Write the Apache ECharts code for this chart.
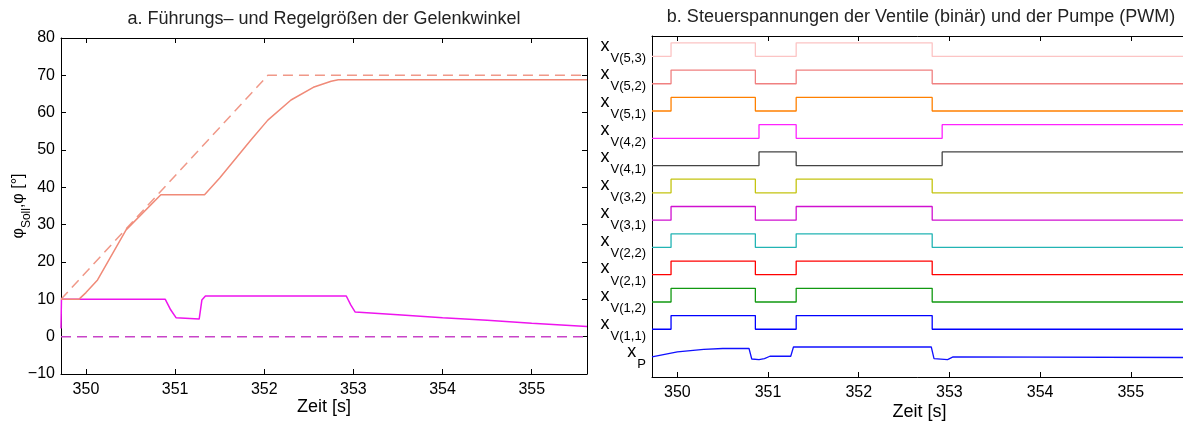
<!DOCTYPE html>
<html>
<head>
<meta charset="utf-8">
<script src="https://cdn.jsdelivr.net/npm/echarts@6/dist/echarts.min.js"></script>
<style>
  html, body { margin: 0; padding: 0; background: #ffffff; }
  #chart { width: 1183px; height: 421px; }
</style>
</head>
<body>
<div id="chart"></div>
<script>
// Time window [s]
const timeMin = 349.72;
const timeMax = 355.62;
const timeTicks = [350, 351, 352, 353, 354, 355];

// Joint angles [deg]: set points (dashed) and measured values (solid)
const angleSoll1 = [[349.72, 10], [352.04, 70], [355.62, 70]];
const angleIst1 = [[349.72, 10], [349.92, 10], [350.0, 11.8], [350.13, 15.2], [350.45, 28.6],
  [350.84, 38.0], [351.33, 38.0], [351.5, 42.5], [351.85, 52.7], [352.04, 58.0], [352.3, 63.4],
  [352.55, 66.8], [352.75, 68.4], [352.83, 68.8], [355.62, 68.8]];
const angleSoll2 = [[349.72, 0], [355.62, 0]];
const angleIst2 = [[349.72, 2.2], [349.725, 10], [350.89, 10], [350.95, 7.2], [351.01, 5.1],
  [351.27, 4.7], [351.3, 9.8], [351.34, 10.9], [352.92, 10.9], [352.97, 8.5], [353.02, 6.6],
  [353.5, 5.9], [354.0, 5.1], [354.5, 4.4], [355.0, 3.6], [355.62, 2.7]];

// Valve switching states (0 = closed, 1 = open)
const switchA = [[349.72, 0], [349.93, 1], [350.86, 0], [351.31, 1], [352.81, 0], [355.62, 0]];
const switchB = [[349.72, 0], [350.90, 1], [351.31, 0], [352.92, 1], [355.62, 1]];
const valveNames = ['V(1,1)', 'V(1,2)', 'V(2,1)', 'V(2,2)', 'V(3,1)', 'V(3,2)',
  'V(4,1)', 'V(4,2)', 'V(5,1)', 'V(5,2)', 'V(5,3)'];
const valvePattern = ['A', 'A', 'A', 'A', 'A', 'A', 'B', 'B', 'A', 'A', 'A'];
const valveColors = ['#0000ff', '#119911', '#ff0000', '#22b4b4', '#d010d0', '#c4c410',
  '#444444', '#ff22ff', '#ff8000', '#f08080', '#fcc4c4'];

// Pump PWM voltage (relative)
const pumpPWM = [[349.72, -0.03], [350.0, 0.34], [350.29, 0.53], [350.5, 0.59], [350.79, 0.59],
  [350.82, -0.18], [350.9, -0.22], [350.96, -0.15], [351.02, 0.02], [351.25, 0.02], [351.28, 0.7],
  [352.8, 0.7], [352.83, -0.15], [352.98, -0.22], [353.04, -0.03], [355.62, -0.07]];

const FONT = "'Liberation Sans', Arial, Helvetica, sans-serif";
const TRACE_GAP = 2;       // vertical distance between traces
const TRACE_BASE = 1.5;    // position of the pump trace
const LABEL_GAP = 2.037;   // tick label spacing on the trace axis
const LABEL_BASE = 1.33;

const traceOffset = i => TRACE_BASE + TRACE_GAP * i;
const labelOffset = i => LABEL_BASE + LABEL_GAP * i;
const shift = (pts, off) => pts.map(p => [p[0], p[1] + off]);
const traceNames = ['P'].concat(valveNames);
const minusSign = v => String(v).replace('-', '\u2212');

const chart = echarts.init(document.getElementById('chart'), null, { renderer: 'canvas' });

const axisLine = { show: true, onZero: false, lineStyle: { color: '#000', width: 1 } };
const tickIn = { show: true, inside: true, length: 5, lineStyle: { color: '#000', width: 1 } };

function timeAxis(grid, position, withLabels, nameGap) {
  return {
    type: 'value', gridIndex: grid, position: position, min: timeMin, max: timeMax,
    axisLine: axisLine,
    axisTick: Object.assign({ customValues: timeTicks }, tickIn),
    axisLabel: withLabels ? { customValues: timeTicks, color: '#000', fontSize: 16, fontFamily: FONT, margin: 8 } : { show: false },
    splitLine: { show: false },
    name: withLabels ? 'Zeit [s]' : '',
    nameLocation: 'middle', nameGap: nameGap || 25, nameMoveOverlap: false,
    nameTextStyle: { color: '#000', fontSize: 18, fontFamily: FONT }
  };
}

// Trace labels "x" with subscript; even and odd traces go on two
// overlaid axes so neighbouring labels never compete for space.
function traceLabelAxis(parity) {
  const idx = traceNames.map((n, i) => i).filter(i => i % 2 === parity);
  return {
    type: 'value', gridIndex: 1, position: 'left', offset: 0, min: 0, max: 25,
    axisLine: parity === 0 ? axisLine : { show: false },
    axisTick: { show: false }, splitLine: { show: false },
    axisLabel: {
      customValues: idx.map(labelOffset), margin: 6,
      showMinLabel: true, showMaxLabel: true, hideOverlap: false,
      formatter: v => {
        const i = Math.round((v - LABEL_BASE) / LABEL_GAP);
        return '{x|x}\n{s|' + traceNames[i] + '}';
      },
      rich: {
        x: { fontSize: 18, fontFamily: FONT, color: '#000', lineHeight: 11, align: 'left' },
        s: { fontSize: 13, fontFamily: FONT, color: '#000', lineHeight: 14, align: 'left', padding: [0, 0, 0, 10] }
      }
    }
  };
}

const series = [];
// Left panel
series.push({ type: 'line', xAxisIndex: 0, yAxisIndex: 0, data: angleSoll2, showSymbol: false,
  lineStyle: { color: '#c844c8', width: 1.5, type: [10, 6] } });
series.push({ type: 'line', xAxisIndex: 0, yAxisIndex: 0, data: angleIst2, showSymbol: false,
  lineStyle: { color: '#ee14ee', width: 1.5 } });
series.push({ type: 'line', xAxisIndex: 0, yAxisIndex: 0, data: angleSoll1, showSymbol: false,
  lineStyle: { color: '#f09888', width: 1.5, type: [10, 6] } });
series.push({ type: 'line', xAxisIndex: 0, yAxisIndex: 0, data: angleIst1, showSymbol: false,
  lineStyle: { color: '#f08a78', width: 1.5 } });

// Right panel: pump trace and valve traces
series.push({ type: 'line', xAxisIndex: 2, yAxisIndex: 2, data: shift(pumpPWM, traceOffset(0)),
  showSymbol: false, lineStyle: { color: '#1010ff', width: 1.3 } });
valveNames.forEach((name, i) => {
  const pts = valvePattern[i] === 'A' ? switchA : switchB;
  series.push({ type: 'line', xAxisIndex: 2, yAxisIndex: 2, step: 'end',
    data: shift(pts, traceOffset(i + 1)), showSymbol: false,
    lineStyle: { color: valveColors[i], width: 1.3 } });
});

const option = {
  animation: false,
  backgroundColor: '#ffffff',
  grid: [
    { left: 61, top: 38, right: 596, bottom: 47, outerBoundsMode: 'none', containLabel: false },
    { left: 652, top: 36, right: -4, bottom: 44, outerBoundsMode: 'none', containLabel: false }
  ],
  xAxis: [
    timeAxis(0, 'bottom', true, 24),
    timeAxis(0, 'top', false),
    timeAxis(1, 'bottom', true, 26),
    timeAxis(1, 'top', false)
  ],
  yAxis: [
    {
      type: 'value', gridIndex: 0, position: 'left', min: -10, max: 80, interval: 10,
      axisLine: axisLine, axisTick: tickIn, splitLine: { show: false },
      axisLabel: { color: '#000', fontSize: 16, fontFamily: FONT, margin: 6, formatter: minusSign },
      name: '{a|φ}{b|Soll}{a|,φ [°]}', nameLocation: 'middle', nameRotate: 90, nameGap: 28,
      nameMoveOverlap: false,
      nameTextStyle: {
        fontFamily: FONT, color: '#000',
        rich: {
          a: { fontSize: 16, fontFamily: FONT, color: '#000', lineHeight: 22, verticalAlign: 'top' },
          b: { fontSize: 12, fontFamily: FONT, color: '#000', lineHeight: 22, verticalAlign: 'bottom' }
        }
      }
    },
    {
      type: 'value', gridIndex: 0, position: 'right', min: -10, max: 80, interval: 10,
      axisLine: axisLine, axisTick: tickIn, splitLine: { show: false }, axisLabel: { show: false }
    },
    traceLabelAxis(0),
    traceLabelAxis(1)
  ],
  graphic: [
    { type: 'text', x: 324, y: 19, style: { text: 'a. Führungs– und Regelgrößen der Gelenkwinkel',
      font: '18px ' + FONT, fill: '#222', align: 'center', verticalAlign: 'middle' } },
    { type: 'text', x: 921, y: 17, style: { text: 'b. Steuerspannungen der Ventile (binär) und der Pumpe (PWM)',
      font: '18px ' + FONT, fill: '#222', align: 'center', verticalAlign: 'middle' } }
  ],
  series: series
};

chart.setOption(option);
</script>
</body>
</html>
